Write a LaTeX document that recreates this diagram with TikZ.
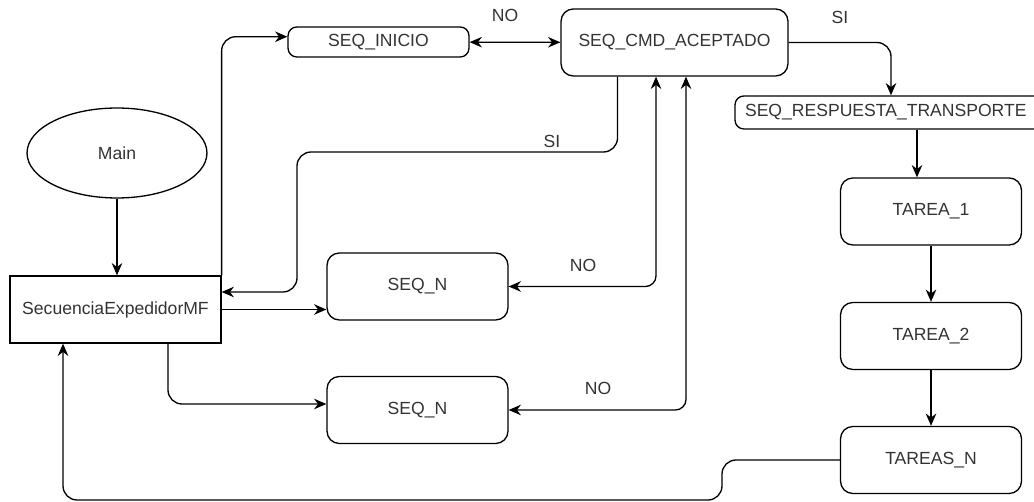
\documentclass[tikz,border=0pt]{standalone}
\usepackage{fontspec}
\setmainfont{Liberation Sans}
\usetikzlibrary{arrows.meta,shapes.geometric}

\begin{document}
\begin{tikzpicture}[x=0.02cm,y=-0.02cm,line width=0.75pt,
  >={Stealth[length=7pt,width=6pt]},
  every node/.style={font=\fontsize{10}{12}\selectfont, text=black!80},
  caja/.style={draw, rounded corners=7pt, minimum width=3.62cm, minimum height=1.34cm, inner sep=0pt},
  etiqueta/.style={inner sep=0pt}]
\useasboundingbox (0,0) rectangle (1034,502);
% Nodos
\node[draw, ellipse, inner sep=0pt, minimum width=3.6cm, minimum height=1.8cm] (main) at (117,153) {Main};
\node[draw, inner sep=0pt, minimum width=4.22cm, minimum height=1.34cm] (secexp) at (115.5,309.5) {SecuenciaExpedidorMF};
\node[caja, rounded corners=5pt, minimum height=0.6cm] (inicio) at (378.5,42) {SEQ\_INICIO};
\node[caja, minimum width=4.54cm] (cmd) at (674.5,42.5) {SEQ\_CMD\_ACEPTADO};
\node[caja, rounded corners=5pt, minimum width=6.3cm, minimum height=0.66cm, text width=5.9cm, align=left] (resp) at (892.5,112.5) {SEQ\_RESPUESTA\_TRANSPORTE};
\node[caja] (tarea1) at (931,211.5) {TAREA\_1};
\node[caja] (tarea2) at (931,336) {TAREA\_2};
\node[caja] (tarean) at (931,460) {TAREAS\_N};
\node[caja] (seqn1) at (417.5,286.5) {SEQ\_N};
\node[caja] (seqn2) at (417.5,410) {SEQ\_N};
% Conexiones
\draw[->] (main.south) -- (main.south |- secexp.north);
\draw[->, rounded corners=8pt] (secexp.north east) |- ([yshift=3pt]inicio.west);
\draw[<->] (inicio) -- (cmd);
\draw[->, rounded corners=8pt] (cmd.east) -| ([xshift=-0.03cm]resp.north);
\draw[->, rounded corners=8pt] ([xshift=-1.14cm]cmd.south) |- (297,152) |- ([yshift=0.35cm]secexp.east);
\draw[->] (secexp.east) -- (secexp.east -| seqn1.west);
\draw[<->, rounded corners=6pt] ([xshift=-0.37cm]cmd.south) |- (seqn1.east);
\draw[<->, rounded corners=6pt] ([xshift=0.23cm]cmd.south) |- (seqn2.east);
\draw[->, rounded corners=8pt] ([xshift=1.05cm]secexp.south) |- ([yshift=0.12cm]seqn2.west);
\draw[->] ([xshift=0.49cm]resp.south) -- ([xshift=0.49cm]resp.south |- tarea1.north);
\draw[->] (tarea1) -- (tarea2);
\draw[->] (tarea2) -- (tarean);
\draw[->, rounded corners=8pt] (tarean.west) -| (722,500) -| ([xshift=-1.05cm]secexp.south);
% Etiquetas
\node[etiqueta] at (505,15) {NO};
\node[etiqueta] at (840,17) {SI};
\node[etiqueta] at (552,141) {SI};
\node[etiqueta] at (583,265) {NO};
\node[etiqueta] at (598,388) {NO};
\end{tikzpicture}
\end{document}
